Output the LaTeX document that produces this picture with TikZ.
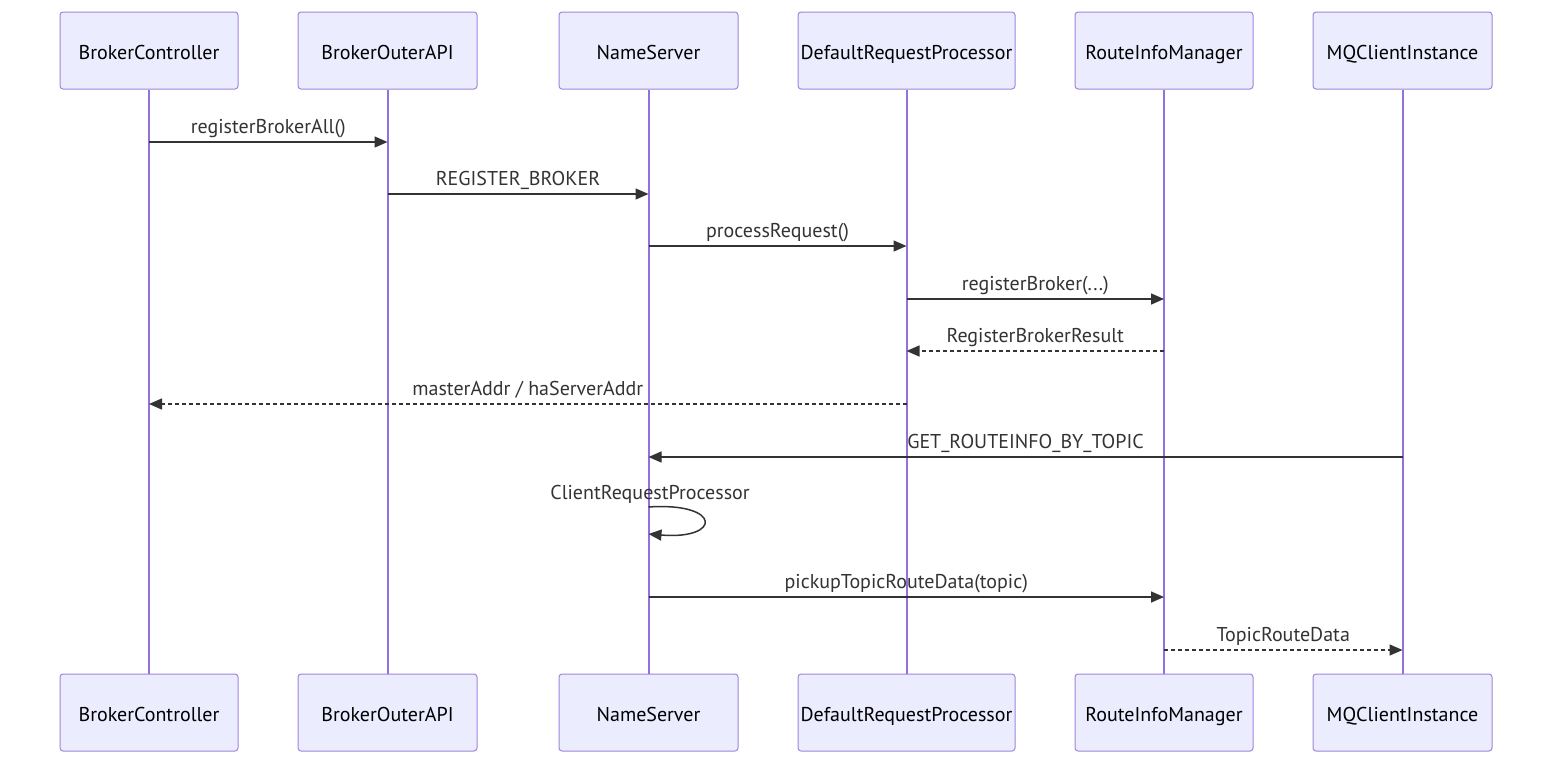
\documentclass[tikz,border=0pt]{standalone}
\usepackage{fontspec}
\setmainfont{PT Sans}
\usetikzlibrary{arrows.meta}
\definecolor{boxfill}{HTML}{ECECFF}
\definecolor{boxline}{HTML}{9F86DD}
\definecolor{life}{HTML}{9370DB}
\definecolor{msg}{HTML}{333333}
\begin{document}
\begin{tikzpicture}[x=1pt,y=-1pt,
  actor/.style={draw=boxline,fill=boxfill,line width=1pt,rounded corners=3pt,minimum height=77pt,inner sep=0pt,text height=18pt,text depth=0pt,font=\fontsize{20}{24}\selectfont,text=black},
  lifeline/.style={draw=life,line width=2pt},
  msgline/.style={draw=msg,line width=1.5pt,-{Triangle[length=13pt,width=11pt]}},
  reply/.style={msgline,dash pattern=on 4pt off 3pt},
  lbl/.style={font=\fontsize{20}{24}\selectfont,text=msg,inner sep=0pt,anchor=base,yshift=9pt}]
\useasboundingbox (0,0) rectangle (1568,774);
% top actors
\node[actor,minimum width=178pt] (aT) at (149,50.5) {BrokerController};
\node[actor,minimum width=179pt] (bT) at (387.5,50.5) {BrokerOuterAPI};
\node[actor,minimum width=179pt] (cT) at (648.5,50.5) {NameServer};
\node[actor,minimum width=217pt] (dT) at (906.5,50.5) {DefaultRequestProcessor};
\node[actor,minimum width=178pt] (eT) at (1164,50.5) {RouteInfoManager};
\node[actor,minimum width=179pt] (fT) at (1402.5,50.5) {MQClientInstance};
% bottom actors
\node[actor,minimum width=178pt] (aB) at (149,712.5) {BrokerController};
\node[actor,minimum width=179pt] (bB) at (387.5,712.5) {BrokerOuterAPI};
\node[actor,minimum width=179pt] (cB) at (648.5,712.5) {NameServer};
\node[actor,minimum width=217pt] (dB) at (906.5,712.5) {DefaultRequestProcessor};
\node[actor,minimum width=178pt] (eB) at (1164,712.5) {RouteInfoManager};
\node[actor,minimum width=179pt] (fB) at (1402.5,712.5) {MQClientInstance};
% lifelines
\foreach \t/\b in {aT/aB,bT/bB,cT/cB,dT/dB,eT/eB,fT/fB}
  \draw[lifeline] (\t.south) -- (\b.north);
% message rows
\coordinate (m1) at (0,142);
\coordinate (m2) at (0,194);
\coordinate (m3) at (0,246);
\coordinate (m4) at (0,299);
\coordinate (m5) at (0,351);
\coordinate (m6) at (0,404);
\coordinate (m7) at (0,457);
\coordinate (m9) at (0,597);
\coordinate (m10) at (0,650);
\draw[msgline] (aT.south |- m1) -- node[lbl] {registerBrokerAll()} (bT.south |- m1);
\draw[msgline] (bT.south |- m2) -- node[lbl] {REGISTER\_BROKER} (cT.south |- m2);
\draw[msgline] (cT.south |- m3) -- node[lbl] {processRequest()} (dT.south |- m3);
\draw[msgline] (dT.south |- m4) -- node[lbl] {registerBroker(...)} (eT.south |- m4);
\draw[reply] (eT.south |- m5) -- node[lbl] {RegisterBrokerResult} (dT.south |- m5);
\draw[reply] (dT.south |- m6) -- node[lbl] {masterAddr / haServerAddr} (aT.south |- m6);
\draw[msgline] (fT.south |- m7) -- node[lbl] {GET\_ROUTEINFO\_BY\_TOPIC} (cT.south |- m7);
% self message
\coordinate (s1) at (0,507);
\coordinate (s2) at (0,534);
\node[lbl] (slbl) at (650,508) {ClientRequestProcessor};
\draw[msgline] (cT.south |- s1) .. controls (722,502) and (722,540) .. (cT.south |- s2);
\draw[msgline] (cT.south |- m9) -- node[lbl] {pickupTopicRouteData(topic)} (eT.south |- m9);
\draw[reply] (eT.south |- m10) -- node[lbl] {TopicRouteData} (fT.south |- m10);
\end{tikzpicture}
\end{document}
